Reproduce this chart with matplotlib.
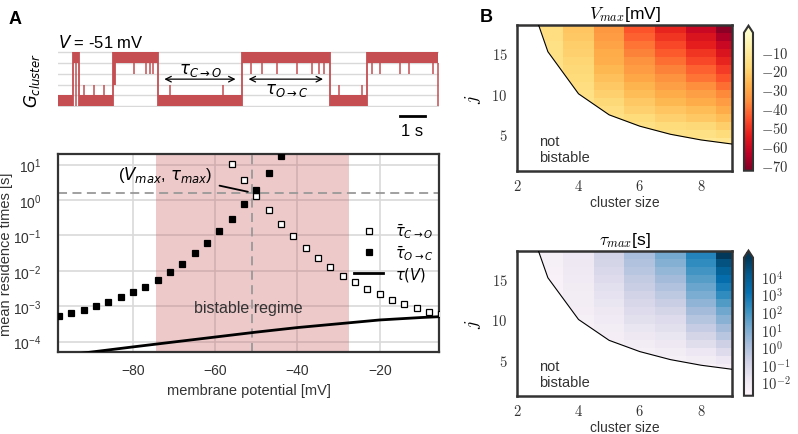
import matplotlib
matplotlib.use('Agg')
import matplotlib.pyplot as plt
import numpy as np
from matplotlib.colors import LogNorm

plt.rcParams['font.family'] = ['Liberation Sans', 'DejaVu Sans']
plt.rcParams['mathtext.fontset'] = 'dejavusans'

RED = '#c44e52'
DARK = '#333333'
GRIDC = '#d9d9d9'

# --- single cluster trace (time in s, conductance levels 0..5)
seg_start = [0.0, 0.6, 0.83, 2.2, 2.27, 4.0, 7.33, 10.87, 12.33]
seg_end = [0.6, 0.83, 2.2, 2.27, 4.0, 7.33, 10.87, 12.33, 15.2]
seg_low = [0, 4, 0, 2, 4, 0, 4, 0, 4]
seg_high = [1, 5, 1, 5, 5, 1, 5, 1, 5]
spike_t = [0.71, 1.04, 1.44, 1.84, 3.03, 3.5, 3.67, 3.8, 4.47, 6.6,
           7.71, 8.13, 8.73, 9.53, 10.14, 10.43, 10.64, 11.23, 12.14,
           12.53, 12.87, 13.67, 14.03, 15.0, 15.2]
spike_from = [4, 1, 1, 1, 4, 4, 4, 4, 1, 1,
              4, 4, 4, 4, 4, 4, 4, 1, 1,
              4, 4, 4, 4, 4, 4]
spike_to = [0, 2, 2, 2, 3, 3, 3, 3, 2, 2,
            3, 3, 3, 3, 3, 3, 3, 2, 2,
            3, 3, 3, 3, 3, 0]

# --- residence times vs membrane potential
v_oc = [-98, -95, -92, -89, -86, -83, -80, -77, -74, -71, -68, -65, -62,
        -59, -56, -53, -50, -47, -44]
tau_oc = [5.2e-4, 6.3e-4, 7.6e-4, 1.0e-3, 1.3e-3, 1.8e-3, 2.5e-3, 3.6e-3,
          5.4e-3, 9.3e-3, 1.6e-2, 3.1e-2, 6.0e-2, 0.13, 0.30, 0.76, 1.95,
          5.7, 17.0]
v_co = [-56, -53, -50, -47, -44, -41, -38, -35, -32, -29, -26, -23, -20,
        -17, -14, -11, -8, -5]
tau_co = [10.4, 3.7, 1.32, 0.51, 0.21, 0.094, 0.045, 0.023, 0.0126,
          0.0073, 0.0048, 0.0031, 0.0022, 0.0015, 0.00115, 8.7e-4, 6.9e-4,
          6.0e-4]
v_line = [-95, -90, -80, -70, -60, -50, -40, -30, -20, -10, -5]
tau_line = [4.3e-5, 5.1e-5, 7.1e-5, 9.8e-5, 1.35e-4, 1.86e-4, 2.5e-4,
            3.2e-4, 4.1e-4, 4.8e-4, 5.1e-4]
bistable_lo, bistable_hi = -74.5, -27.5
v_max, tau_max = -51, 1.6

# --- heatmaps: columns are cluster sizes, rows start at j_start
cluster_n = [3, 4, 5, 6, 7, 8, 9]
j_start = [12, 8, 6, 5, 4, 4, 3]
vmax_cols = [
    [-14, -14, -15, -15, -15, -16, -16],
    [-13, -14, -15, -16, -17, -18, -19, -20, -21, -22, -23],
    [-13, -15, -16, -18, -20, -22, -24, -26, -28, -29, -31, -33, -34],
    [-13, -15, -17, -20, -22, -25, -27, -30, -33, -35, -38, -40, -43, -45],
    [-12, -14, -17, -20, -23, -26, -29, -32, -35, -38, -41, -44, -47, -50, -53],
    [-12, -15, -18, -22, -25, -29, -32, -36, -40, -43, -47, -50, -54, -57, -61],
    [-10, -13, -17, -21, -25, -29, -33, -37, -41, -45, -49, -53, -57, -61, -66, -71],
]
log_taumax_cols = [
    [-2.5, -2.45, -2.4, -2.4, -2.35, -2.3, -2.3],
    [-2.4, -2.35, -2.3, -2.2, -2.15, -2.1, -2.05, -2.0, -1.95, -1.9, -1.85],
    [-2.4, -2.3, -2.2, -2.1, -2.0, -1.9, -1.75, -1.6, -1.45, -1.3, -1.15, -1.0, -0.9],
    [-2.4, -2.3, -2.1, -1.9, -1.7, -1.5, -1.3, -1.1, -0.9, -0.7, -0.5, -0.3, -0.1, 0.1],
    [-2.5, -2.3, -2.1, -1.9, -1.7, -1.5, -1.3, -1.0, -0.7, -0.4, -0.1, 0.2, 0.5, 0.8, 1.1],
    [-2.4, -2.1, -1.8, -1.4, -1.0, -0.6, -0.2, 0.2, 0.6, 1.0, 1.3, 1.6, 1.9, 2.2, 2.5],
    [-2.5, -2.2, -1.8, -1.3, -0.8, -0.3, 0.2, 0.7, 1.2, 1.7, 2.2, 2.7, 3.2, 3.7, 4.3, 5.0],
]
border_n = [2.65, 3, 4, 5, 6, 7, 8, 9]
border_j = [19, 15.2, 10, 7.4, 6.0, 5.0, 4.3, 3.8]


def to_grid(cols):
    grid = np.full((18, len(cols)), np.nan)
    for c, (start, vals) in enumerate(zip(j_start, cols)):
        grid[start - 1:start - 1 + len(vals), c] = vals
    return np.ma.masked_invalid(grid)


fig = plt.figure(figsize=(7.98, 4.35), dpi=100)

# ---------------- trace
axT = fig.add_axes([0.0731, 0.7508, 0.4774, 0.1299])
axT.set_xlim(0, 15.24)
axT.set_ylim(-0.1, 5.1)
for lev in range(6):
    axT.axhline(lev, color=GRIDC, lw=1, zorder=0)
for s, e, lo, hi in zip(seg_start, seg_end, seg_low, seg_high):
    axT.fill_between([s, e], lo, hi, color=RED, lw=0, zorder=2)
for i in range(len(seg_end) - 1):
    lo = min(seg_low[i], seg_low[i + 1])
    hi = max(seg_high[i], seg_high[i + 1])
    axT.vlines(seg_end[i], lo, hi, color=RED, lw=1.3, zorder=2)
axT.vlines(spike_t, spike_from, spike_to, color=RED, lw=1.1, zorder=2)
axT.annotate('', xy=(4.13, 2.5), xytext=(7.2, 2.5),
             arrowprops=dict(arrowstyle='<->', color='black', lw=0.9))
axT.annotate('', xy=(7.5, 2.5), xytext=(10.7, 2.5),
             arrowprops=dict(arrowstyle='<->', color='black', lw=0.9))
axT.text(5.67, 2.65, r'$\tau_{C\rightarrow O}$', ha='center', va='bottom', fontsize=12)
axT.text(9.13, 2.35, r'$\tau_{O\rightarrow C}$', ha='center', va='top', fontsize=12)
axT.text(0, 5.95, r'$V$ = -51 mV', ha='left', va='center', fontsize=12, clip_on=False)
axT.plot([13.67, 14.67], [-0.89, -0.89], color='black', lw=2, clip_on=False)
axT.text(14.17, -2.25, '1 s', ha='center', va='center', fontsize=12, clip_on=False)
axT.axis('off')
fig.text(32 / 798, 1 - 80 / 435, r'$G_{cluster}$', rotation=90,
         ha='center', va='center', fontsize=12)

# ---------------- residence times
axA = fig.add_axes([0.0727, 0.1885, 0.4774, 0.4552])
axA.set_yscale('log')
axA.axvspan(bistable_lo, bistable_hi, color=RED, alpha=0.3, lw=0, zorder=1)
axA.axvline(v_max, color='#999999', lw=1.3, ls=(0, (5, 3)), zorder=2)
axA.axhline(tau_max, color='#999999', lw=1.3, ls=(0, (5, 3)), zorder=2)
axA.plot(v_co, tau_co, 's', ms=4.6, mfc='white', mec='black', mew=0.9,
         label=r'$\bar{\tau}_{C\rightarrow O}$', zorder=4)
axA.plot(v_oc, tau_oc, 's', ms=4.6, mfc='black', mec='black', mew=0.9,
         label=r'$\bar{\tau}_{O\rightarrow C}$', zorder=4)
axA.plot(v_line, tau_line, color='black', lw=2, label=r'$\tau(V)$', zorder=3)
axA.annotate('', xy=(-51.4, 1.65), xytext=(-59.6, 2.65),
             arrowprops=dict(arrowstyle='-', color='black', lw=1.3))
axA.text(-72.2, 5.4, r'($V_{max}$, $\tau_{max}$)', ha='center', va='center', fontsize=12)
axA.text(-52, 9e-4, 'bistable regime', ha='center', va='center', fontsize=11.5,
         color='#333333')
axA.set_xlim(-98.2, -5.6)
axA.set_ylim(5.1e-5, 20)
axA.set_xticks([-80, -60, -40, -20])
axA.set_yticks([1e-4, 1e-3, 1e-2, 1e-1, 1e0, 1e1])
axA.minorticks_off()
axA.grid(True, color=GRIDC, lw=1.2)
axA.set_axisbelow(True)
axA.tick_params(axis='both', length=0, labelsize=10, colors='#333333')
axA.tick_params(axis='y', pad=12)
axA.tick_params(axis='x', pad=8)
for sp in axA.spines.values():
    sp.set_color(DARK)
    sp.set_linewidth(1.6)
axA.set_xlabel('membrane potential [mV]', fontsize=10.5, labelpad=4, color='#333333')
axA.set_ylabel('mean residence times [s]', fontsize=10.5, color='#333333')
axA.yaxis.set_label_coords(-0.118, 0.5)
axA.legend(loc='upper left', bbox_to_anchor=(0.743, 0.725), frameon=False,
           fontsize=10.5, handlelength=2, labelspacing=0.2, borderaxespad=0.5)

# ---------------- heatmaps
x_edges = np.arange(2.5, 10.0, 1.0)
y_edges = np.arange(0.5, 19.0, 1.0)


def heatmap(ax, cax, grid, cmap, norm, title, ticks, labels):
    mesh = ax.pcolormesh(x_edges, y_edges, grid, cmap=cmap, norm=norm,
                         shading='flat', zorder=1)
    ax.fill_between([2] + border_n, 0, [19] + border_j, color='white',
                    lw=0, zorder=2)
    ax.plot(border_n, border_j, color='black', lw=0.8, zorder=3)
    ax.text(2.72, 3.2, 'not\nbistable', ha='left', va='center',
            fontsize=10.5, color='#333333', zorder=4)
    ax.set_xlim(2, 9)
    ax.set_ylim(0.5, 18.5)
    ax.set_xticks([2, 4, 6, 8])
    ax.set_xticklabels(['$2$', '$4$', '$6$', '$8$'], math_fontfamily='cm',
                       fontsize=10.5)
    ax.set_yticks([5, 10, 15])
    ax.set_yticklabels(['$5$', '$10$', '$15$'], math_fontfamily='cm',
                       fontsize=10.5)
    ax.tick_params(length=0, colors='#333333')
    ax.tick_params(axis='y', pad=7)
    ax.tick_params(axis='x', pad=5)
    ax.set_xlabel('cluster size', fontsize=10, labelpad=2, color='#333333')
    ax.set_ylabel('$j$', fontsize=13, math_fontfamily='cm', labelpad=6)
    ax.set_title(title, fontsize=12.5, math_fontfamily='cm', pad=5)
    for sp in ax.spines.values():
        sp.set_color(DARK)
        sp.set_linewidth(1.8)
    cb = fig.colorbar(mesh, cax=cax, extend='max')
    cb.outline.set_edgecolor(DARK)
    cb.outline.set_linewidth(1.5)
    cb.ax.minorticks_off()
    cb.set_ticks(ticks, labels=labels, math_fontfamily='cm', fontsize=10.5)
    cb.ax.tick_params(length=0, pad=6, colors='#333333')
    return cb


ax1 = fig.add_axes([0.6482, 0.6053, 0.2687, 0.3349])
cax1 = fig.add_axes([0.9323, 0.6053, 0.0113, 0.3333])
heatmap(ax1, cax1, to_grid(vmax_cols), 'YlOrRd_r',
        plt.Normalize(vmin=-73, vmax=0), r'$V_{max}$[mV]',
        [-70, -60, -50, -40, -30, -20, -10],
        [r'$-70$', r'$-60$', r'$-50$', r'$-40$', r'$-30$', r'$-20$', r'$-10$'])

ax2 = fig.add_axes([0.6482, 0.0880, 0.2687, 0.3320])
cax2 = fig.add_axes([0.9323, 0.0880, 0.0113, 0.3334])
heatmap(ax2, cax2, 10.0 ** to_grid(log_taumax_cols), 'PuBu',
        LogNorm(vmin=1.6e-3, vmax=1.1e5), r'$\tau_{max}$[s]',
        [1e-2, 1e-1, 1e0, 1e1, 1e2, 1e3, 1e4],
        [r'$10^{-2}$', r'$10^{-1}$', r'$10^{0}$', r'$10^{1}$', r'$10^{2}$',
         r'$10^{3}$', r'$10^{4}$'])

fig.text(15.5 / 798, 1 - 19 / 435, 'A', fontsize=13, fontweight='bold',
         ha='center', va='center')
fig.text(486.7 / 798, 1 - 17 / 435, 'B', fontsize=13, fontweight='bold',
         ha='center', va='center')

fig.savefig('out.png', dpi=100)
